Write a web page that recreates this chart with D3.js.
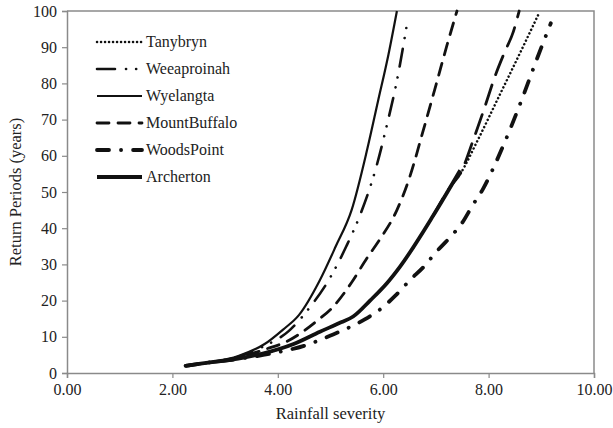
<!DOCTYPE html>
<html>
<head>
<meta charset="utf-8">
<script src="https://cdn.jsdelivr.net/npm/d3@7/dist/d3.min.js"></script>
<style>
  html, body { margin: 0; padding: 0; background: #fff; }
  svg { display: block; }
  svg text { font-family: "Times New Roman", "Liberation Serif", Tinos, "DejaVu Serif", serif; fill: #222; }
</style>
</head>
<body>
<svg id="chart" width="613" height="428"></svg>
<script>
// Return period curves per station: [rainfall severity, return period (years)]
const tanybryn = [[2.25,2],[2.75,3],[3.25,4],[3.75,5.5],[4.3,8],[4.8,11.4],[5.2,14],[5.43,15.6],[5.75,20],[6.07,24.8],[6.32,29.4],[6.95,43.5],[7.3,52],[7.46,55],[7.8,64.5],[8.2,76.5],[8.6,88.5],[8.96,99.5]];
const weeaproinah = [[2.25,2],[2.75,3],[3.25,4.5],[3.75,7.5],[4.2,11.5],[4.6,18],[5.0,26.5],[5.3,35],[5.56,43.6],[5.88,57.5],[6.07,68.5],[6.25,80],[6.47,98]];
const wyelangta = [[2.25,2],[2.75,3],[3.25,4.7],[3.75,8],[4.1,12],[4.4,16],[4.8,25.7],[5.1,35],[5.4,45],[5.7,62],[5.9,75],[6.1,88],[6.26,100]];
const mountBuffalo = [[2.25,2],[2.75,3],[3.25,4.3],[3.75,6.5],[4.17,8.7],[4.76,14.6],[5.05,18.3],[5.4,25],[5.69,31.7],[5.94,37],[6.26,45],[6.5,54],[6.76,67],[7.01,80],[7.2,90],[7.4,100]];
const woodsPoint = [[2.25,2],[2.75,3],[3.25,3.9],[3.85,5.3],[4.6,8],[4.99,10.3],[5.31,12.3],[5.65,14.8],[5.97,17.9],[6.24,21.5],[6.51,25.7],[6.76,29.2],[7.01,33.5],[7.27,37.5],[7.49,41.3],[7.7,46.4],[7.9,51],[8.07,56],[8.37,66],[8.65,76.3],[8.91,86.5],[9.18,96.6]];
const archerton = [[2.25,2],[2.75,3],[3.25,4],[3.75,5.5],[4.3,8],[4.8,11.4],[5.2,14],[5.43,15.6],[5.75,20],[6.07,24.8],[6.32,29.4],[6.95,43.5],[7.3,52],[7.46,56]];
// Additional curve drawn without a legend entry
const extraCurve = [[6.95,43.5],[7.3,52],[7.46,55],[7.71,64.4],[7.93,73.6],[8.12,81.9],[8.3,88.5],[8.47,94.3],[8.58,100]];

const xTicks = [0, 2, 4, 6, 8, 10];
const yTicks = [0, 10, 20, 30, 40, 50, 60, 70, 80, 90, 100];

const series = [
  { name: "Tanybryn",     data: tanybryn,     width: 2.5, dash: "0.1,3.9",               cap: "round", legend: true },
  { name: "Weeaproinah",  data: weeaproinah,  width: 2.6, dash: "18,11,0.1,10,0.1,11",   cap: "round", legend: true },
  { name: "Wyelangta",    data: wyelangta,    width: 2.2, dash: null,                    cap: "butt",  legend: true },
  { name: "MountBuffalo", data: mountBuffalo, width: 2.8, dash: "12,9",                  cap: "round", legend: true },
  { name: "WoodsPoint",   data: woodsPoint,   width: 3.8, dash: "12,12,0.1,12",          cap: "round", legend: true },
  { name: "Archerton",    data: archerton,    width: 3.8, dash: null,                    cap: "butt",  legend: true },
  { name: "",             data: extraCurve,   width: 2.8, dash: "20,11",                 cap: "round", legend: false }
];

const svg = d3.select("#chart");
const plot = { left: 67, right: 594, top: 11, bottom: 373 };

const x = d3.scaleLinear().domain([0, 10]).range([plot.left, plot.right]);
const y = d3.scaleLinear().domain([0, 100]).range([plot.bottom, plot.top]);

const axisColor = "#8a8a8a";
const serif = "'Times New Roman', 'Liberation Serif', Tinos, 'DejaVu Serif', serif";

// Frame (top and right edges)
svg.append("path")
  .attr("d", `M${plot.left},${plot.top}H${plot.right}V${plot.bottom}`)
  .attr("fill", "none").attr("stroke", axisColor).attr("stroke-width", 1.5);

// Axes
const xAxis = svg.append("g")
  .attr("transform", `translate(0,${plot.bottom})`)
  .call(d3.axisBottom(x).tickValues(xTicks).tickFormat(d3.format(".2f")).tickSizeOuter(0).tickSize(5).tickPadding(6));
const yAxis = svg.append("g")
  .attr("transform", `translate(${plot.left},0)`)
  .call(d3.axisLeft(y).tickValues(yTicks).tickFormat(d3.format("d")).tickSizeOuter(0).tickSize(5).tickPadding(5));

[xAxis, yAxis].forEach(g => {
  g.attr("font-family", serif);
  g.select(".domain").attr("stroke", axisColor).attr("stroke-width", 1.5);
  g.selectAll(".tick line").attr("stroke", axisColor).attr("stroke-width", 1.2);
  g.selectAll(".tick text")
    .attr("font-family", serif)
    .attr("font-size", 16).attr("fill", "#222");
});

// Axis titles
svg.append("text")
  .attr("x", (plot.left + plot.right) / 2).attr("y", 419)
  .attr("text-anchor", "middle").attr("font-size", 16.5)
  .attr("font-family", serif)
  .text("Rainfall severity");
svg.append("text")
  .attr("transform", `translate(21,${(plot.top + plot.bottom) / 2}) rotate(-90)`)
  .attr("text-anchor", "middle").attr("font-size", 16.5)
  .attr("font-family", serif)
  .text("Return Periods (years)");

// Curves
svg.append("clipPath").attr("id", "plot-clip")
  .append("rect")
  .attr("x", plot.left).attr("y", plot.top - 2)
  .attr("width", plot.right - plot.left).attr("height", plot.bottom - plot.top + 2);

const line = d3.line()
  .x(d => x(d[0]))
  .y(d => y(d[1]))
  .curve(d3.curveMonotoneX);

const lines = svg.append("g").attr("clip-path", "url(#plot-clip)");
// patterned curves first, heavy solid last
const drawOrder = [6, 0, 3, 1, 2, 4, 5];
drawOrder.forEach(i => {
  const s = series[i];
  lines.append("path")
    .datum(s.data)
    .attr("d", line)
    .attr("fill", "none")
    .attr("stroke", "#111")
    .attr("stroke-width", s.width)
    .attr("stroke-linecap", s.cap)
    .attr("stroke-linejoin", "round")
    .attr("stroke-dasharray", s.dash);
});

// Legend
const legend = svg.append("g");
const legendItems = series.filter(s => s.legend);
legendItems.forEach((s, i) => {
  const ly = 42 + i * 27;
  legend.append("line")
    .attr("x1", 97).attr("x2", 142).attr("y1", ly).attr("y2", ly)
    .attr("stroke", "#111")
    .attr("stroke-width", s.width)
    .attr("stroke-linecap", s.cap)
    .attr("stroke-dasharray", s.dash);
  legend.append("text")
    .attr("x", 146).attr("y", ly + 5)
    .attr("font-size", 16)
    .attr("font-family", serif)
    .text(s.name);
});
</script>
</body>
</html>
